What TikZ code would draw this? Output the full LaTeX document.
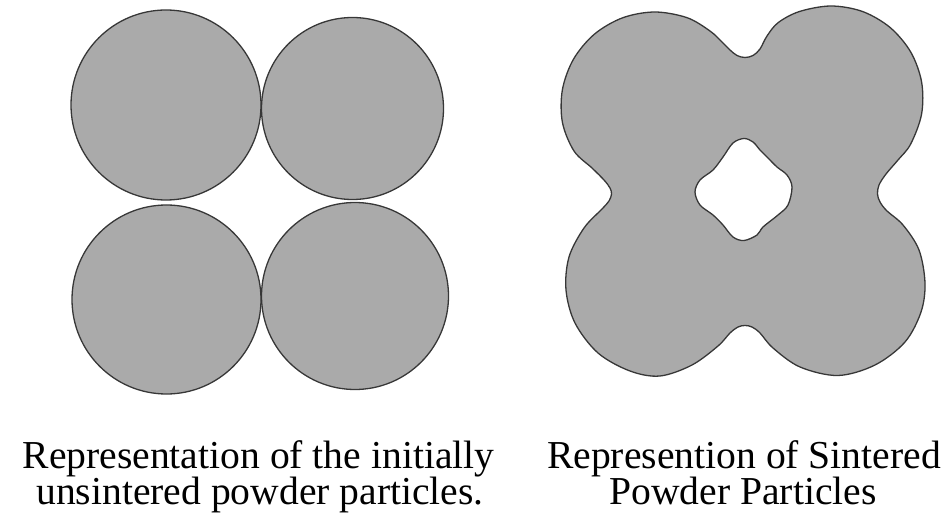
\documentclass[tikz,border=0pt]{standalone}
\usepackage{fontspec}
\setmainfont{Liberation Serif}
\definecolor{partfill}{RGB}{170,170,170}
\definecolor{partline}{RGB}{55,55,55}
\begin{document}
\begin{tikzpicture}[x=1pt,y=-1pt,
  particle/.style={fill=partfill,draw=partline,line width=1.3pt},
  lbl/.style={anchor=base,inner sep=0pt,font=\fontsize{39.6}{33}\selectfont}]
\useasboundingbox (0,0) rectangle (948,513);
% unsintered particles
\filldraw[particle] (166,105) circle[radius=95];
\filldraw[particle] (352.5,108.5) circle[radius=91];
\filldraw[particle] (166.5,299.5) circle[radius=94.5];
\filldraw[particle] (355,296) circle[radius=93.5];
% sintered particles
\filldraw[particle,even odd rule]
 plot[smooth cycle,tension=0.55] coordinates {
 (760,49) (753,55.5) (745,57.5) (737,55.5) (730,50)
 (722,42) (710,31) (687.1,17.7) (655,12) (622.9,17.7) (594.6,34) (573.6,59)
 (562.4,89.7) (562.4,122.3) (574,151) (592,168)
 (604,180) (610,188) (611.5,194) (609,201) (602,209)
 (584,228) (569,257) (566,290) (575,323) (598,353) (630,371) (660,376) (692,365) (718,346)
 (730,333) (738,327) (745,325.5) (752,327) (760,333)
 (773,348) (800,367) (838,375.5) (875,365) (905,342) (921,312) (925,283) (919,250) (903,225)
 (887,211) (880,202) (877.5,194) (879,185) (886,174)
 (898,160) (910.7,144) (921.6,114) (921.6,82) (910.7,52) (890.1,27.5) (862.5,11.5)
 (831,6) (799.5,11.5) (778.2,22.6) (767,36)}
 plot[smooth cycle,tension=0.55] coordinates {
 (744,138.5) (753,142) (760,150) (767,157) (777,167) (787,175) (792,187)
 (788,205) (778,215) (763,227) (757,235) (744,240.5) (733,237) (723,225)
 (713,215) (700,205) (695,192) (700,180) (713,170) (723,157) (733,143)};
% captions
\node[lbl] (l1) at (258.5,468) {Representation of the initially};
\node[lbl] (l2) at (260,504) {unsintered powder particles.};
\node[lbl] (r1) at (744,468) {Represention of Sintered};
\node[lbl] (r2) at (743,504) {Powder Particles};
\end{tikzpicture}
\end{document}
